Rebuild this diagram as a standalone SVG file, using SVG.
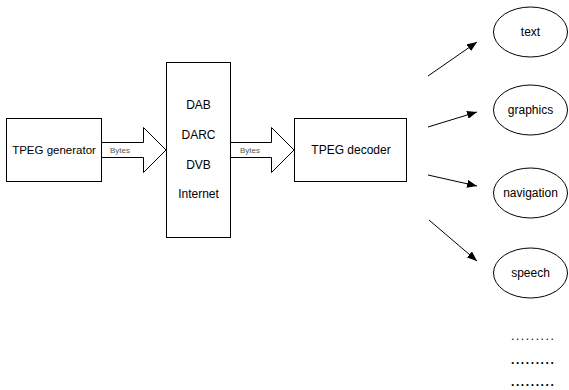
<svg xmlns="http://www.w3.org/2000/svg" width="569" height="390" viewBox="0 0 569 390">
<style>
.box{fill:#fff;stroke:#000;stroke-width:1}
.t{font-family:"Liberation Sans",Arial,sans-serif;font-size:12px;fill:#000;text-anchor:middle}
.b{font-family:"Liberation Sans",Arial,sans-serif;font-size:8px;fill:#555;text-anchor:middle}
.c{stroke:#000;stroke-width:1;fill:none}
.dots{font-family:"Liberation Sans",Arial,sans-serif;font-size:12px;font-weight:bold;fill:#000;letter-spacing:1.6px}
</style>
<defs>
<marker id="ah" markerWidth="10" markerHeight="8" refX="10" refY="4" orient="auto" markerUnits="userSpaceOnUse">
<path d="M0,0 L10,4 L0,8 Z" fill="#000"/>
</marker>
</defs>
<rect width="569" height="390" fill="#fff"/>
<g id="generator">
<rect class="box" x="6.5" y="118.5" width="95" height="63"/>
<text class="t" x="54" y="154" style="font-size:11.5px">TPEG generator</text>
</g>
<g id="channels">
<rect class="box" x="166.5" y="62.5" width="64" height="175"/>
<text class="t" x="198.5" y="109">DAB</text>
<text class="t" x="198.5" y="139">DARC</text>
<text class="t" x="198.5" y="169">DVB</text>
<text class="t" x="198.5" y="198">Internet</text>
</g>
<g id="decoder">
<rect class="box" x="294.5" y="118.5" width="112" height="63"/>
<text class="t" x="351" y="154">TPEG decoder</text>
</g>
<g id="text">
<ellipse class="box" cx="530.5" cy="32" rx="37" ry="25"/>
<text class="t" x="530.5" y="36">text</text>
</g>
<g id="graphics">
<ellipse class="box" cx="530.5" cy="110" rx="37" ry="25"/>
<text class="t" x="530.5" y="114">graphics</text>
</g>
<g id="navigation">
<ellipse class="box" cx="530.5" cy="193" rx="37" ry="25"/>
<text class="t" x="530.5" y="197">navigation</text>
</g>
<g id="speech">
<ellipse class="box" cx="530.5" cy="273" rx="37" ry="25"/>
<text class="t" x="530.5" y="277">speech</text>
</g>
<g id="more">
<text class="dots" x="511" y="340" style="font-weight:normal">.........</text>
<text class="dots" x="511" y="364">.........</text>
<text class="dots" x="511" y="386">.........</text>
</g>
<g id="connectors">
<path class="box" d="M101.5,142.5 H143.5 V127.5 L166,150 L143.5,172.5 V157.5 H101.5 Z"/>
<text class="b" x="120" y="153">Bytes</text>
<path class="box" d="M230.5,142.5 H271.5 V127.5 L294,150 L271.5,172.5 V157.5 H230.5 Z"/>
<text class="b" x="250" y="153">Bytes</text>
<line class="c" x1="428" y1="76" x2="477" y2="42" marker-end="url(#ah)"/>
<line class="c" x1="428" y1="127" x2="477" y2="112" marker-end="url(#ah)"/>
<line class="c" x1="428" y1="175" x2="477" y2="186" marker-end="url(#ah)"/>
<line class="c" x1="429" y1="220" x2="477" y2="261" marker-end="url(#ah)"/>
</g>
</svg>
